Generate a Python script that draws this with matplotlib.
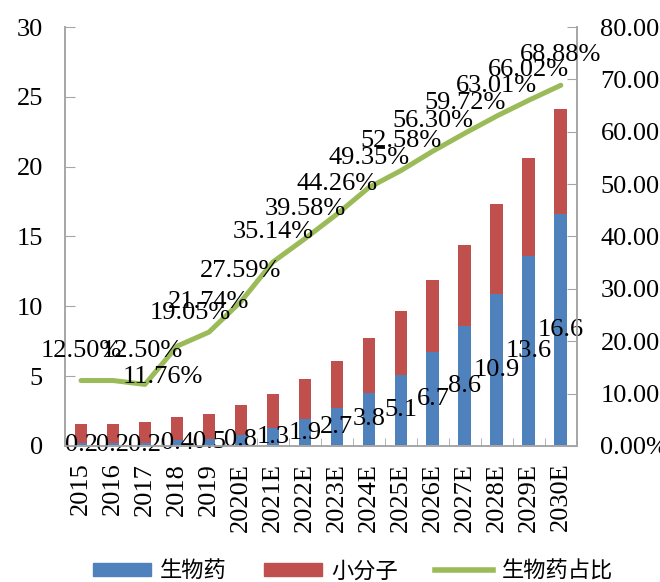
import numpy as np
import matplotlib.pyplot as plt
from matplotlib.patches import Patch
from matplotlib.lines import Line2D

plt.rcParams['font.family'] = ['Liberation Serif', 'Noto Sans CJK SC']

years = ['2015', '2016', '2017', '2018', '2019', '2020E', '2021E', '2022E',
         '2023E', '2024E', '2025E', '2026E', '2027E', '2028E', '2029E', '2030E']
biologics = [0.2, 0.2, 0.2, 0.4, 0.5, 0.8, 1.3, 1.9, 2.7, 3.8, 5.1, 6.7, 8.6, 10.9, 13.6, 16.6]
small_molecule = [1.4, 1.4, 1.5, 1.7, 1.8, 2.1, 2.4, 2.9, 3.4, 3.9, 4.6, 5.2, 5.8, 6.4, 7.0, 7.5]
bio_share = [12.50, 12.50, 11.76, 19.05, 21.74, 27.59, 35.14, 39.58, 44.26, 49.35,
             52.58, 56.30, 59.72, 63.01, 66.02, 68.88]

BLUE = '#4F81BD'
RED = '#C0504D'
GREEN = '#9BBB59'
GRID = '#A6A6A6'
FS = 19

# nudges (pixels) for the crowded share labels at the start of the line
share_nudge = {1: (29, 30), 2: (18, 7), 3: (13, 33)}

fig = plt.figure(figsize=(6.6, 5.82), dpi=100)
ax = fig.add_axes([0.0985, 0.2337, 0.7755, 0.7199])
ax2 = ax.twinx()

x = np.arange(len(years))
w = 0.4
ax.bar(x, biologics, w, color=BLUE, zorder=2)
ax.bar(x, small_molecule, w, bottom=biologics, color=RED, zorder=2)

for xi, b in zip(x, biologics):
    ax.text(xi, b / 2, f'{b:g}', ha='center', va='center', fontsize=FS, zorder=5)

ax.set_xlim(-0.5, len(years) - 0.5)
ax.set_ylim(0, 30)
ax.set_yticks(range(0, 31, 5))
ax.set_xticks(x)
ax.set_xticklabels(years, rotation=90, fontsize=FS)
ax.set_xticks(np.arange(-0.5, len(years), 1), minor=True)
ax.tick_params(axis='x', which='major', length=0, pad=12)
ax.tick_params(axis='x', which='minor', direction='in', length=6, color=GRID)
ax.tick_params(axis='y', direction='in', length=7, color=GRID, labelsize=FS, pad=16)

ax2.plot(x, bio_share, color=GREEN, lw=3.6, solid_capstyle='round',
         solid_joinstyle='round', zorder=3)
for i, (xi, p) in enumerate(zip(x, bio_share)):
    dx, dy = share_nudge.get(i, (0, 30))
    ax2.annotate(f'{p:.2f}%', (xi, p), xytext=(dx, dy), textcoords='offset pixels',
                 ha='center', va='center', fontsize=FS, zorder=5)
ax2.set_ylim(0, 80)
ax2.set_yticks(range(0, 81, 10))
ax2.set_yticklabels([f'{v:.2f}%' for v in range(0, 81, 10)])
ax2.tick_params(axis='y', direction='in', length=7, color=GRID, labelsize=FS, pad=17)

for a in (ax, ax2):
    a.spines['top'].set_visible(False)
    for s in ('left', 'right', 'bottom'):
        a.spines[s].set_color(GRID)
        a.spines[s].set_linewidth(1.2)

handles = [Patch(color=BLUE), Patch(color=RED), Line2D([], [], color=GREEN, lw=4)]
fig.legend(handles, ['生物药', '小分子', '生物药占比'], loc='lower center',
           bbox_to_anchor=(0.535, -0.035), ncol=3, frameon=False,
           prop={'family': 'Noto Sans CJK SC', 'size': 16},
           handlelength=2.6, handleheight=0.55, handletextpad=0.4, columnspacing=1.7)

fig.savefig('out.png', dpi=100)
